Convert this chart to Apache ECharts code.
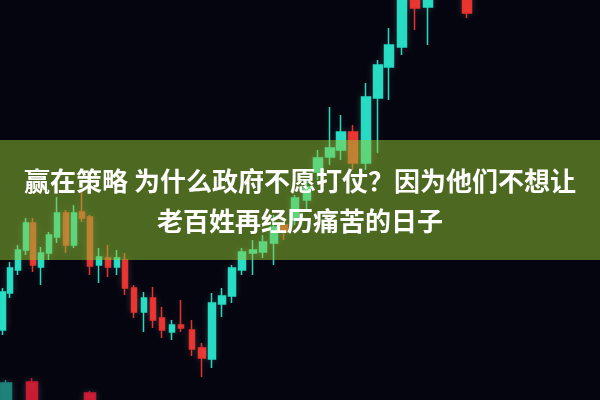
<!DOCTYPE html>
<html>
<head>
<meta charset="utf-8">
<script src="https://cdn.jsdelivr.net/npm/echarts@6/dist/echarts.min.js"></script>
<style>
html,body{margin:0;padding:0;background:#050510;}
#chart{width:600px;height:400px;}
</style>
</head>
<body>
<div id="chart"></div>
<script>
// Candle positions (horizontal value) and prices
var xs     = [3,10,18,26,33,41,49,57,66,74,82,90,99,108,117,125,134,144,153,162,172,181,192,
              202,212,222,232,242,253,263,274,284,295,307,
              318,330,341,353,366,378,389,402,415,428,467];
var opens  = [70,107,130,150,177,133,147,163,187,155,188,183,135,142,133,140,112,88,102,82,68,75,70,
              52,41,96,104,130,147,148,157,175,180,200,
              228,243,250,268,237,302,333,353,420,393,430];
var closes = [108,132,150,177,135,147,165,187,155,187,182,134,143,133,142,112,88,102,80,70,75,72,51,
              42,97,104,132,148,150,158,173,168,202,213,
              242,252,268,237,303,335,355,410,392,420,387];
var lows   = [65,102,125,145,128,115,140,157,147,152,178,125,117,123,125,105,82,68,72,62,60,68,44,
              23,32,83,97,125,125,142,135,160,175,190,
              220,235,240,230,230,247,300,345,370,355,382];
var highs  = [112,138,155,182,182,153,168,203,190,195,208,185,152,155,150,147,115,108,113,93,80,100,80,
              57,107,112,135,152,160,165,185,182,205,220,
              250,293,285,275,317,340,372,415,425,425,435];

// Lower panel candles, cut off by the bottom edge
var xs2     = [6,32,90];
var opens2  = [-20,18,7];
var closes2 = [17,-20,-20];
var lows2   = [-25,-25,-25];
var highs2  = [20,22,9];

var UP = '#22dcc2', DOWN = '#e8302c';

function build(lo, hi) {
  var out = [];
  for (var i = 0; i < xs.length; i++) {
    if (xs[i] >= lo && xs[i] < hi) out.push([xs[i], opens[i], closes[i], lows[i], highs[i]]);
  }
  return out;
}
var lower = xs2.map(function (x, i) { return [x, opens2[i], closes2[i], lows2[i], highs2[i]]; });

function candle(data, w, up, down) {
  return {
    type: 'candlestick',
    data: data,
    encode: { x: 0, y: [1, 2, 3, 4] },
    barWidth: w,
    clip: true,
    animation: false,
    itemStyle: {
      color: up, color0: down,
      borderColor: up, borderColor0: down,
      borderWidth: 1.5,
      shadowBlur: 8,
      shadowColor: 'rgba(255,255,255,0.15)'
    }
  };
}

var chart = echarts.init(document.getElementById('chart'), null, { renderer: 'canvas' });
chart.setOption({
  backgroundColor: '#050510',
  animation: false,
  grid: { left: 0, right: 0, top: 0, bottom: 0 },
  xAxis: { type: 'value', min: 0, max: 600, show: false },
  yAxis: { type: 'value', min: 0, max: 400, show: false },
  series: [
    candle(build(0, 198), 6, UP, DOWN),
    candle(build(198, 312), 7, UP, DOWN),
    candle(build(312, 600), 9, UP, DOWN),
    candle(lower, 11, '#1a8078', '#c81830')
  ],
  graphic: [
    { type: 'rect', z: 100, shape: { x: 0, y: 140, width: 600, height: 120 },
      style: { fill: 'rgba(150,205,50,0.5)' } },
    { type: 'text', z: 101, x: 300, y: 181,
      style: { text: '赢在策略 为什么政府不愿打仗？因为他们不想让', fill: '#ffffff',
               font: 'bold 26px "Noto Sans CJK SC"', align: 'center', verticalAlign: 'middle' } },
    { type: 'text', z: 101, x: 300, y: 221,
      style: { text: '老百姓再经历痛苦的日子', fill: '#ffffff',
               font: 'bold 26px "Noto Sans CJK SC"', align: 'center', verticalAlign: 'middle' } }
  ]
});
</script>
</body>
</html>
